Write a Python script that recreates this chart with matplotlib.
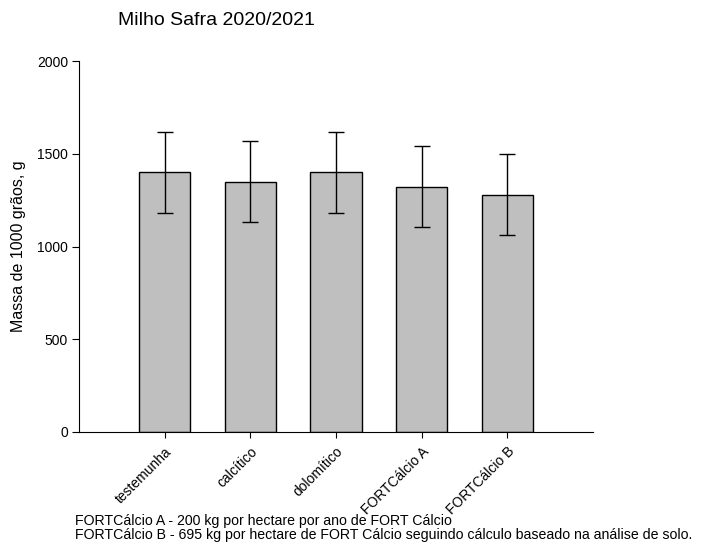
import matplotlib.pyplot as plt
import numpy as np

plt.rcParams['font.family'] = ['Liberation Sans', 'DejaVu Sans']

categorias = ["testemunha", "calcítico", "dolomítico", "FORTCálcio A", "FORTCálcio B"]
massa = [1400, 1350, 1400, 1323, 1280]
erro = [220, 220, 220, 220, 220]

fig = plt.figure(figsize=(7.12, 5.46), dpi=100)
ax = fig.add_axes([0.111, 0.209, 0.722, 0.679])

x = np.arange(len(categorias))
ax.bar(x, massa, width=0.6, color="#bfbfbf", edgecolor="black", linewidth=1.0,
       yerr=erro, error_kw=dict(ecolor="black", elinewidth=1.0, capsize=6, capthick=1.0))

ax.set_xlim(-1, 5)
ax.set_ylim(0, 2000)
ax.set_yticks([0, 500, 1000, 1500, 2000])
ax.set_xticks(x)
ax.set_xticklabels(categorias, rotation=45, ha="right", rotation_mode="anchor", fontsize=10)
ax.tick_params(axis="y", labelsize=10, direction="out", length=5, pad=3)
ax.tick_params(axis="x", direction="out", length=4, pad=5)
ax.spines["top"].set_visible(False)
ax.spines["right"].set_visible(False)
ax.set_ylabel("Massa de 1000 grãos, g", fontsize=11.5, labelpad=8)

fig.text(0.166, 0.963, "Milho Safra 2020/2021", fontsize=14, ha="left", va="center")
fig.text(0.105, 0.045, "FORTCálcio A - 200 kg por hectare por ano de FORT Cálcio", fontsize=10.2, ha="left", va="center")
fig.text(0.105, 0.020, "FORTCálcio B - 695 kg por hectare de FORT Cálcio seguindo cálculo baseado na análise de solo.", fontsize=10.2, ha="left", va="center")

fig.savefig("out.png", dpi=100)
